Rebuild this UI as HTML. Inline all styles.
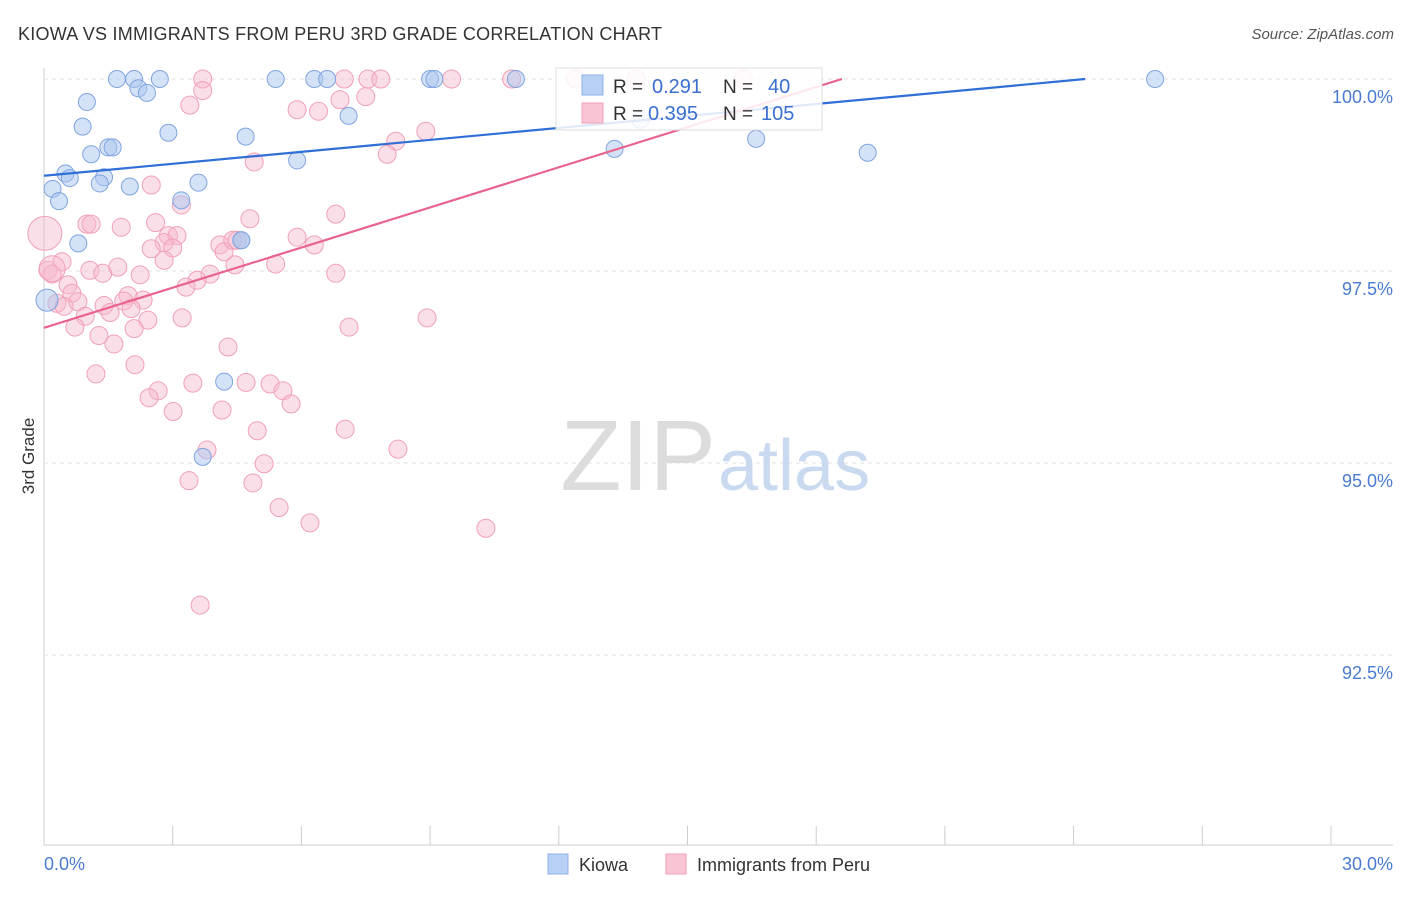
<!DOCTYPE html>
<html><head><meta charset="utf-8"><style>
body{margin:0;background:#fff;font-family:"Liberation Sans",sans-serif;}
svg text{font-family:"Liberation Sans",sans-serif;}
</style></head><body>
<svg id="chart" width="1406" height="892">
<text x="18" y="40" font-size="18" fill="#333" textLength="644">KIOWA VS IMMIGRANTS FROM PERU 3RD GRADE CORRELATION CHART</text>
<text x="1394" y="39" font-size="15" fill="#555" font-style="italic" text-anchor="end">Source: ZipAtlas.com</text>
<text x="34" y="456" font-size="17" fill="#333" transform="rotate(-90 34 456)" text-anchor="middle">3rd Grade</text>
<g id="grid"></g>
<text x="716" y="490" font-size="100" fill="#dcdcdc" text-anchor="end" font-family="Liberation Serif">ZIP</text>
<text x="718" y="490" font-size="72" fill="#c9d9f0">atlas</text>
<g id="pts"></g>
<g id="lines"></g>
<g>
<rect x="556" y="68" width="266" height="62" fill="#fff" fill-opacity="0.85" stroke="#ddd"/>
<rect x="582" y="75" width="21" height="20" fill="#b8d0f4" stroke="#8fb0e8"/>
<rect x="582" y="103" width="21" height="20" fill="#f9c4d4" stroke="#f0a0b8"/>
<text x="613" y="93" font-size="19" fill="#333">R =</text>
<text x="652" y="93" font-size="20" fill="#3a6fd0">0.291</text>
<text x="723" y="93" font-size="19" fill="#333">N =</text>
<text x="768" y="93" font-size="20" fill="#3a6fd0">40</text>
<text x="613" y="120" font-size="19" fill="#333">R =</text>
<text x="648" y="120" font-size="20" fill="#3a6fd0">0.395</text>
<text x="723" y="120" font-size="19" fill="#333">N =</text>
<text x="761" y="120" font-size="20" fill="#3a6fd0">105</text>
</g>
<g>
<rect x="548" y="854" width="20" height="20" fill="#b8d0f4" stroke="#8fb0e8"/>
<text x="579" y="871" font-size="18" fill="#333">Kiowa</text>
<rect x="666" y="854" width="20" height="20" fill="#f9c4d4" stroke="#f0a0b8"/>
<text x="697" y="871" font-size="18" fill="#333">Immigrants from Peru</text>
</g>
</svg>
<script>
const yTicks=[100,97.5,95,92.5];
const yTickLabels=["100.0%","97.5%","95.0%","92.5%"];
const xTicks=[0,3,6,9,12,15,18,21,24,27,30];
const blueX=[1.7,2.1,2.7,5.4,6.3,6.6,9.0,9.1,11.0,25.9,1.0,2.2,2.4,0.9,2.9,4.7,7.1,1.1,1.5,1.6,5.9,13.3,16.6,19.2,0.5,0.6,1.4,1.3,2.0,3.6,0.2,0.35,3.2,0.8,4.6,4.6,0.07,4.2,3.7,13.9];
const blueY=[100,100,100,100,100,100,100,100,100,100,99.7,99.88,99.82,99.38,99.3,99.25,99.52,99.02,99.11,99.11,98.94,99.09,99.22,99.04,98.77,98.71,98.72,98.64,98.6,98.65,98.57,98.41,98.42,97.86,97.9,97.9,97.12,96.06,95.08,99.47];
const pinkX=[3.7,7.0,7.55,7.85,9.5,10.9,12.4,13.8,16.3,3.4,3.7,5.9,6.4,6.9,7.5,8.9,8.2,8.0,4.9,2.5,3.2,6.8,4.8,2.6,1.8,1.0,1.1,2.9,3.1,2.8,3.0,4.1,4.2,4.4,4.5,5.9,6.3,2.5,2.8,4.45,5.4,6.8,0.42,0.09,0.19,1.07,1.37,1.72,2.24,3.87,3.57,3.31,0.56,0.65,0.3,0.47,0.79,1.4,1.96,1.86,2.31,1.54,0.96,2.03,2.42,3.22,0.72,1.28,2.1,1.63,4.29,7.11,8.93,1.21,2.12,2.66,2.45,3.47,3.01,4.15,4.71,5.27,5.57,5.76,7.02,4.97,8.25,3.8,5.13,3.38,4.87,5.48,6.2,10.3,3.64,0.02,0.19];
const pinkY=[100,100,100,100,100,100,100,100,100,99.66,99.85,99.6,99.58,99.73,99.77,99.32,99.19,99.02,98.92,98.62,98.36,98.24,98.18,98.13,98.07,98.11,98.11,97.96,97.96,97.87,97.8,97.84,97.75,97.9,97.9,97.94,97.84,97.79,97.64,97.58,97.59,97.47,97.62,97.51,97.46,97.51,97.47,97.55,97.45,97.46,97.38,97.29,97.32,97.21,97.08,97.04,97.1,97.05,97.18,97.11,97.12,96.96,96.91,97.01,96.86,96.89,96.77,96.66,96.75,96.55,96.51,96.77,96.89,96.16,96.28,95.94,95.85,96.04,95.67,95.69,96.05,96.03,95.94,95.77,95.44,95.42,95.18,95.17,94.99,94.77,94.74,94.42,94.22,94.15,93.15,97.99,97.53];
const blueLine=[0,98.74,24.27,100];
const pinkLine=[0,96.76,18.6,100];
const NS="http://www.w3.org/2000/svg";
const X=v=>44+v*42.9, Y=v=>79+(100-v)*76.8;
function mk(t,a,p){const e=document.createElementNS(NS,t);for(const k in a)e.setAttribute(k,a[k]);p.appendChild(e);return e;}
const grid=document.getElementById('grid');
const ax=mk('line',{x1:44,y1:68,x2:44,y2:845,stroke:'#ccc'},grid);


const bx=mk('line',{x1:44,y1:845,x2:1393,y2:845,stroke:'#ccc'},grid);


yTicks.forEach((v,i)=>{const g=mk('line',{x1:44,x2:1393,y1:Y(v),y2:Y(v),stroke:'#e2e2e2','stroke-dasharray':'4,4'},grid);


const t=mk('text',{x:1393,y:Y(v)+24,'font-size':18,fill:'#4a7bd0','text-anchor':'end'},grid);t.textContent=yTickLabels[i];

});
xTicks.forEach(v=>{const l=mk('line',{x1:X(v),x2:X(v),y1:826,y2:845,stroke:'#ccc'},grid);

});
const t0=mk('text',{x:44,y:870,'font-size':18,fill:'#4a7bd0'},grid);t0.textContent='0.0%';


const t1=mk('text',{x:1393,y:870,'font-size':18,fill:'#4a7bd0','text-anchor':'end'},grid);t1.textContent='30.0%';


const pts=document.getElementById('pts');
pinkX.forEach((x,i)=>{const r=(i>=pinkX.length-2)?(i==pinkX.length-2?17:13):9;
const c=mk('circle',{cx:X(x),cy:Y(pinkY[i]),r:r,fill:'#f7b8cb','fill-opacity':0.45,stroke:'#f0a0b8','stroke-width':1},pts);

});
blueX.forEach((x,i)=>{const c=mk('circle',{cx:X(x),cy:Y(blueY[i]),r:(i==36?11:8.5),fill:'#aac6f0','fill-opacity':0.5,stroke:'#7fa4e0','stroke-width':1},pts);

});
const lines=document.getElementById('lines');
const bl=mk('line',{x1:X(blueLine[0]),y1:Y(blueLine[1]),x2:X(blueLine[2]),y2:Y(blueLine[3]),stroke:'#2f6fd6','stroke-width':2.2},lines);


const pl=mk('line',{x1:X(pinkLine[0]),y1:Y(pinkLine[1]),x2:X(pinkLine[2]),y2:Y(pinkLine[3]),stroke:'#e8648e','stroke-width':2.2},lines);


</script>
</body></html>
